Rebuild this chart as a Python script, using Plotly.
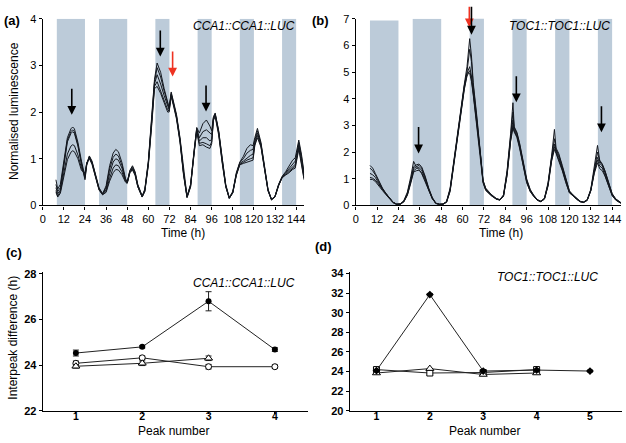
import plotly.graph_objects as go

# ---------------- data ----------------
DARK_START = [8, 32, 64, 88, 112, 136]
DARK_END = [24, 48, 72, 96, 120, 144]
DARK_TOP_B = [6.93, 7.0, 7.08, 7.0, 7.0, 7.0]

TA = [7.5, 8.5, 10, 12, 14, 16, 17, 18, 20, 22, 24, 25, 26.5, 28, 30, 32, 34, 36, 38, 40,
      41.5, 43, 45, 47, 48, 49.5, 51, 52.5, 54, 56.5, 58, 60, 62, 63.5, 65, 67, 69, 71, 71.8, 73,
      74.5, 76, 78, 80, 82, 84, 86, 87.5, 89, 91, 93, 95, 96, 97, 98, 100, 102, 104, 106, 108,
      110, 112, 114, 116, 118, 119.5, 120.5, 122, 124, 126, 128, 130, 132, 134, 136, 138, 140, 142, 143.5, 145.5,
      147, 148.5]
A1 = [0.55,0.35,0.45,0.95,1.45,1.64,1.68,1.64,1.35,0.95, 0.62,0.90,1.06,0.95,0.65,0.38,0.25,0.42,0.85,1.12,
      1.20,1.15,0.92,0.58,0.50,0.75,0.85,0.72,0.45,0.20, 0.35,0.95,1.95,2.70,3.05,2.85,2.50,2.20,2.10,2.43,
      2.20,1.95,1.45,0.75,0.20,0.45,1.20,1.67,1.55,1.75, 1.83,1.70,1.60,1.90,1.98,1.60,1.00,0.45,0.17,0.30,
      0.70,0.93,1.05,1.22,1.30,1.28,1.45,1.65,1.35,0.85, 0.35,0.13,0.20,0.45,0.62,0.72,0.85,0.97,1.02,1.40,
      1.10,0.70]
A2 = [0.45,0.30,0.38,0.92,1.40,1.58,1.62,1.58,1.30,0.90, 0.58,0.88,1.05,0.93,0.63,0.36,0.25,0.38,0.78,1.03,
      1.10,1.06,0.86,0.56,0.50,0.74,0.83,0.70,0.44,0.20, 0.33,0.92,1.90,2.65,2.95,2.75,2.45,2.15,2.08,2.40,
      2.18,1.92,1.42,0.72,0.19,0.44,1.18,1.65,1.45,1.58, 1.62,1.55,1.52,1.88,1.96,1.58,0.98,0.43,0.16,0.29,
      0.68,0.92,1.00,1.12,1.18,1.20,1.40,1.60,1.32,0.83, 0.34,0.13,0.20,0.44,0.61,0.70,0.80,0.90,0.95,1.35,
      1.05,0.65]
A3 = [0.38,0.25,0.33,0.88,1.36,1.54,1.58,1.54,1.27,0.88, 0.55,0.86,1.03,0.92,0.62,0.35,0.24,0.34,0.68,0.93,
      1.00,0.97,0.80,0.54,0.48,0.72,0.80,0.68,0.42,0.19, 0.32,0.90,1.85,2.60,2.80,2.60,2.35,2.10,2.05,2.38,
      2.15,1.90,1.40,0.70,0.18,0.42,1.15,1.63,1.38,1.45, 1.45,1.38,1.42,1.86,1.95,1.56,0.95,0.42,0.16,0.28,
      0.67,0.90,0.95,1.02,1.07,1.10,1.35,1.55,1.30,0.80, 0.33,0.12,0.19,0.43,0.60,0.68,0.76,0.84,0.88,1.30,
      1.00,0.60]
A4 = [0.32,0.20,0.30,0.68,1.10,1.27,1.30,1.28,1.08,0.80, 0.65,0.90,1.02,0.90,0.60,0.34,0.23,0.30,0.58,0.80,
      0.87,0.85,0.72,0.52,0.48,0.70,0.78,0.66,0.40,0.18, 0.30,0.88,1.80,2.55,2.65,2.45,2.25,2.05,2.02,2.36,
      2.13,1.88,1.38,0.68,0.17,0.40,1.12,1.60,1.33,1.35, 1.32,1.28,1.36,1.84,1.93,1.54,0.93,0.40,0.15,0.27,
      0.65,0.88,0.92,0.97,1.00,1.02,1.30,1.50,1.27,0.78, 0.32,0.12,0.19,0.42,0.60,0.66,0.73,0.80,0.84,1.25,
      0.95,0.58]
A5 = [0.28,0.18,0.26,0.60,0.98,1.14,1.17,1.15,1.00,0.75, 0.70,0.92,1.00,0.88,0.58,0.33,0.23,0.28,0.52,0.70,
      0.77,0.76,0.66,0.50,0.47,0.70,0.76,0.64,0.40,0.18, 0.30,0.85,1.75,2.50,2.55,2.40,2.20,2.00,2.00,2.33,
      2.10,1.85,1.35,0.65,0.17,0.40,1.10,1.58,1.28,1.30, 1.25,1.22,1.32,1.82,1.90,1.50,0.90,0.40,0.15,0.27,
      0.64,0.87,0.90,0.93,0.95,0.97,1.28,1.45,1.25,0.76, 0.31,0.12,0.18,0.42,0.59,0.65,0.70,0.77,0.80,1.20,
      0.90,0.55]

TB = [8, 9.5, 11, 13, 15, 17, 19, 21, 23, 25, 27, 29, 31, 32.5, 34, 35.5, 37, 39, 41, 43,
      45, 47, 49, 51, 53, 55, 57, 59, 61, 62.5, 63.3, 64, 65, 66, 68, 70, 71.5, 73, 76, 79,
      81, 83, 85, 87, 88.3, 89, 90.5, 92, 94, 96, 98, 100, 102, 104, 106, 108, 110, 111.6, 112.5, 114,
      116, 118, 120, 122, 124, 126, 128, 130, 132, 134, 135.8, 137, 138.5, 140, 142, 144, 146, 148, 149]
B1 = [1.50,1.40,1.20,0.90,0.65,0.45,0.27,0.12,0.05,0.06, 0.18,0.50,1.10,1.65,1.45,1.35,1.20,0.90,0.55,0.25,
      0.08,0.04,0.05,0.15,0.65,1.65,2.75,3.70,4.55,5.20, 5.70,6.25,5.60,4.60,3.35,2.10,0.95,0.65,0.42,0.26,
      0.22,0.40,1.30,2.70,3.85,2.95,2.75,2.35,1.65,1.00, 0.60,0.38,0.22,0.16,0.28,0.85,1.85,2.85,2.15,1.95,
      1.50,1.00,0.55,0.40,0.26,0.16,0.13,0.22,0.60,1.40, 2.25,1.70,1.55,1.30,0.85,0.45,0.25,0.15,0.10]
B2 = [1.40,1.30,1.15,0.88,0.63,0.44,0.26,0.12,0.05,0.05, 0.16,0.45,1.00,1.45,1.52,1.55,1.45,1.10,0.65,0.30,
      0.09,0.05,0.05,0.14,0.60,1.60,2.70,3.65,4.50,5.00, 5.40,5.85,5.40,4.50,3.25,2.00,0.92,0.63,0.40,0.25,
      0.21,0.38,1.25,2.60,3.50,2.90,2.70,2.30,1.60,0.95, 0.58,0.36,0.21,0.15,0.26,0.80,1.80,2.50,2.10,1.90,
      1.45,0.95,0.53,0.39,0.25,0.15,0.12,0.20,0.58,1.35, 2.00,1.65,1.52,1.28,0.82,0.43,0.24,0.14,0.10]
B3 = [1.20,1.15,1.05,0.82,0.60,0.42,0.25,0.11,0.04,0.05, 0.15,0.42,0.95,1.38,1.45,1.50,1.40,1.05,0.62,0.28,
      0.08,0.04,0.05,0.13,0.58,1.55,2.65,3.60,4.45,4.95, 5.10,5.20,4.85,4.35,3.15,1.95,0.90,0.60,0.39,0.24,
      0.21,0.36,1.20,2.50,3.20,2.85,2.65,2.25,1.55,0.92, 0.55,0.35,0.20,0.15,0.25,0.78,1.75,2.30,2.05,1.82,
      1.40,0.92,0.50,0.38,0.24,0.15,0.12,0.20,0.56,1.30, 1.80,1.58,1.48,1.22,0.78,0.40,0.22,0.13,0.09]
B4 = [1.05,1.02,0.95,0.78,0.58,0.41,0.25,0.11,0.04,0.05, 0.14,0.40,0.90,1.30,1.38,1.42,1.32,1.00,0.60,0.27,
      0.08,0.04,0.05,0.12,0.55,1.50,2.60,3.55,4.40,4.90, 5.00,5.05,4.75,4.25,3.05,1.90,0.88,0.58,0.38,0.24,
      0.20,0.35,1.15,2.45,3.00,2.80,2.60,2.20,1.50,0.88, 0.53,0.34,0.20,0.14,0.24,0.75,1.70,2.20,2.00,1.75,
      1.35,0.88,0.48,0.37,0.24,0.14,0.12,0.19,0.55,1.25, 1.70,1.48,1.40,1.15,0.75,0.38,0.21,0.12,0.09]
B5 = [0.98,0.97,0.90,0.75,0.56,0.40,0.24,0.10,0.04,0.04, 0.13,0.38,0.85,1.25,1.30,1.32,1.22,0.95,0.58,0.26,
      0.07,0.04,0.04,0.12,0.52,1.45,2.55,3.50,4.35,4.85, 4.95,4.95,4.65,4.15,2.95,1.85,0.85,0.56,0.37,0.23,
      0.20,0.35,1.12,2.40,2.90,2.75,2.55,2.15,1.45,0.85, 0.52,0.33,0.19,0.14,0.24,0.72,1.65,2.10,1.95,1.70,
      1.30,0.85,0.47,0.36,0.23,0.14,0.11,0.19,0.54,1.20, 1.60,1.38,1.30,1.10,0.72,0.37,0.20,0.12,0.08]

# arrows: (x, head y, tail y)
ARROWS_A_BLACK = [(16.5, 1.94, 2.53), (66.8, 3.19, 3.78), (92.8, 2.01, 2.60)]
ARROWS_A_RED = [(73.8, 2.76, 3.33)]
ARROWS_B_BLACK = [(35.3, 1.95, 3.0), (65.0, 6.4, 7.5), (90.2, 3.87, 4.9), (138.0, 2.74, 3.77)]
ARROWS_B_RED = [(63.8, 6.68, 7.5)]

# panel (c)
PEAK_C = [1, 2, 3, 4]
C_FILLED = [24.53, 24.80, 26.80, 24.68]
C_FILLED_ERR = [0.13, 0.05, 0.42, 0.08]
C_CIRCLE = [24.08, 24.32, 23.93, 23.93]
C_CIRCLE_ERR = [0.1, 0.08, 0.1, 0.08]
PEAK_C_TRI = [1, 2, 3]
C_TRI = [23.95, 24.08, 24.30]
C_TRI_ERR = [0.08, 0.1, 0.1]

# panel (d)
PEAK_D = [1, 2, 3, 4, 5]
D_FILLED = [24.1, 31.85, 24.05, 24.15, 24.05]
D_FILLED_ERR = [0.1, 0.12, 0.08, 0.1, 0.1]
PEAK_D4 = [1, 2, 3, 4]
D_TRI = [23.85, 24.3, 23.7, 23.85]
D_SQUARE = [24.2, 23.85, 23.9, 24.2]

# ---------------- figure ----------------
W, H = 626, 443
FONT = "Liberation Sans, Arial, sans-serif"
SHADE = "#bccbd9"
LINE = "#14181f"

def px(x):
    return x / W

def py(y):
    return 1 - y / H

fig = go.Figure()

for ys in [A1, A2, A3, A4, A5]:
    fig.add_trace(go.Scatter(x=TA, y=ys, mode="lines", line=dict(color=LINE, width=1),
                             xaxis="x", yaxis="y", showlegend=False, hoverinfo="skip"))
for ys in [B1, B2, B3, B4, B5]:
    fig.add_trace(go.Scatter(x=TB, y=ys, mode="lines", line=dict(color=LINE, width=1),
                             xaxis="x2", yaxis="y2", showlegend=False, hoverinfo="skip"))

shapes = []
for s, e in zip(DARK_START, DARK_END):
    shapes.append(dict(type="rect", xref="x", yref="y", x0=s, x1=e, y0=0, y1=4,
                       fillcolor=SHADE, line=dict(width=0), layer="below"))
for s, e, t in zip(DARK_START, DARK_END, DARK_TOP_B):
    shapes.append(dict(type="rect", xref="x2", yref="y2", x0=s, x1=e, y0=0, y1=t,
                       fillcolor=SHADE, line=dict(width=0), layer="below"))

mk_line = dict(color="#222", width=1)
err = lambda a: dict(type="data", array=a, visible=True, color="#222", thickness=1, width=3)

fig.add_trace(go.Scatter(x=PEAK_C, y=C_FILLED, error_y=err(C_FILLED_ERR), mode="lines+markers",
                         line=mk_line, marker=dict(symbol="circle", size=6, color="black"),
                         xaxis="x3", yaxis="y3", showlegend=False))
fig.add_trace(go.Scatter(x=PEAK_C, y=C_CIRCLE, error_y=err(C_CIRCLE_ERR), mode="lines+markers",
                         line=mk_line, marker=dict(symbol="circle", size=6, color="white",
                                                   line=dict(color="black", width=1)),
                         xaxis="x3", yaxis="y3", showlegend=False))
fig.add_trace(go.Scatter(x=PEAK_C_TRI, y=C_TRI, error_y=err(C_TRI_ERR), mode="lines+markers",
                         line=mk_line, marker=dict(symbol="triangle-up", size=7, color="white",
                                                   line=dict(color="black", width=1)),
                         xaxis="x3", yaxis="y3", showlegend=False))

fig.add_trace(go.Scatter(x=PEAK_D4, y=D_SQUARE, mode="lines+markers",
                         line=mk_line, marker=dict(symbol="square", size=6, color="white",
                                                   line=dict(color="black", width=1)),
                         xaxis="x4", yaxis="y4", showlegend=False))
fig.add_trace(go.Scatter(x=PEAK_D4, y=D_TRI, mode="lines+markers",
                         line=mk_line, marker=dict(symbol="triangle-up", size=7, color="white",
                                                   line=dict(color="black", width=1)),
                         xaxis="x4", yaxis="y4", showlegend=False))
fig.add_trace(go.Scatter(x=PEAK_D, y=D_FILLED, error_y=err(D_FILLED_ERR), mode="lines+markers",
                         line=mk_line, marker=dict(symbol="diamond", size=6, color="black"),
                         xaxis="x4", yaxis="y4", showlegend=False))

annotations = []
def arrow(xr, yr, x, yh, yt, color):
    annotations.append(dict(xref=xr, yref=yr, axref=xr, ayref=yr, x=x, y=yh, ax=x, ay=yt,
                            showarrow=True, arrowhead=2, arrowsize=1.1, arrowwidth=1.6,
                            arrowcolor=color, text=""))

for x, yh, yt in ARROWS_A_BLACK:
    arrow("x", "y", x, yh, yt, "black")
for x, yh, yt in ARROWS_A_RED:
    arrow("x", "y", x, yh, yt, "#ee3322")
for x, yh, yt in ARROWS_B_RED:
    arrow("x2", "y2", x, yh, yt, "#ee3322")
for x, yh, yt in ARROWS_B_BLACK:
    arrow("x2", "y2", x, yh, yt, "black")

def text(x, y, s, size=12, bold=False, italic=False, angle=0, xanchor="center", yanchor="middle"):
    if bold:
        s = "<b>" + s + "</b>"
    if italic:
        s = "<i>" + s + "</i>"
    annotations.append(dict(xref="paper", yref="paper", x=px(x), y=py(y), text=s, showarrow=False,
                            textangle=angle, xanchor=xanchor, yanchor=yanchor, borderpad=0,
                            font=dict(family=FONT, size=size, color="black")))

text(0, 15, "(a)", 13, bold=True, xanchor="left")
text(310, 15, "(b)", 13, bold=True, xanchor="left")
text(2, 253, "(c)", 13, bold=True, xanchor="left")
text(313, 247, "(d)", 13, bold=True, xanchor="left")
text(243, 21, "CCA1::CCA1::LUC", 12, italic=True)
text(560, 21, "TOC1::TOC1::LUC", 12, italic=True)
text(243, 285, "CCA1::CCA1::LUC", 12, italic=True)
text(548, 279, "TOC1::TOC1::LUC", 12, italic=True)
text(11, 108, "Normalised luminescence", 12, angle=-90)
text(181, 233, "Time (h)", 12)
text(501, 233, "Time (h)", 12)
text(10, 341, "Interpeak difference (h)", 12, angle=-90)
text(172, 445, "Peak number", 12, yanchor="bottom")
text(485, 445, "Peak number", 12, yanchor="bottom")

axis_common = dict(showline=True, linecolor="black", linewidth=1.3, ticks="outside", ticklen=3,
                   tickwidth=1, tickcolor="black", showgrid=False, zeroline=False,
                   tickfont=dict(family=FONT, size=11, color="black"))
bold_tick = dict(family=FONT, size=11, color="black", weight="bold")
bold_tick_x = dict(family=FONT, size=10.5, color="black", weight="bold")

fig.update_layout(
    width=W, height=H, margin=dict(l=0, r=0, t=0, b=0),
    paper_bgcolor="white", plot_bgcolor="rgba(0,0,0,0)",
    shapes=shapes, annotations=annotations,
    xaxis=dict(axis_common, domain=[px(40), px(303)], range=[0, 148.5], tickvals=list(range(0, 145, 12)),
               anchor="y"),
    yaxis=dict(axis_common, domain=[py(205), py(13)], range=[0, 4], dtick=1, anchor="x"),
    xaxis2=dict(axis_common, domain=[px(355), px(622)], range=[0, 149], tickvals=list(range(0, 145, 12)),
                anchor="y2"),
    yaxis2=dict(axis_common, domain=[py(205), py(13)], range=[0, 7], dtick=1, anchor="x2"),
    xaxis3=dict(axis_common, domain=[px(40), px(307)], range=[0.5, 4.5], tickvals=PEAK_C, ticklen=2,
                tickfont=bold_tick_x, ticklabelstandoff=-6, anchor="y3"),
    yaxis3=dict(axis_common, domain=[py(416), py(273)], range=[22, 28.1], tickvals=[22, 24, 26, 28],
                tickfont=bold_tick, anchor="x3"),
    xaxis4=dict(axis_common, domain=[px(349), px(623)], range=[0.5, 5.6], tickvals=PEAK_D, ticklen=2,
                tickfont=bold_tick_x, ticklabelstandoff=-6, anchor="y4"),
    yaxis4=dict(axis_common, domain=[py(416), py(273)], range=[20, 34.2], dtick=2,
                tickfont=bold_tick, anchor="x4"),
)

fig.write_html("out.html", config={"displayModeBar": False},
               post_script="document.body.style.margin='0';document.body.style.overflow='hidden';")
